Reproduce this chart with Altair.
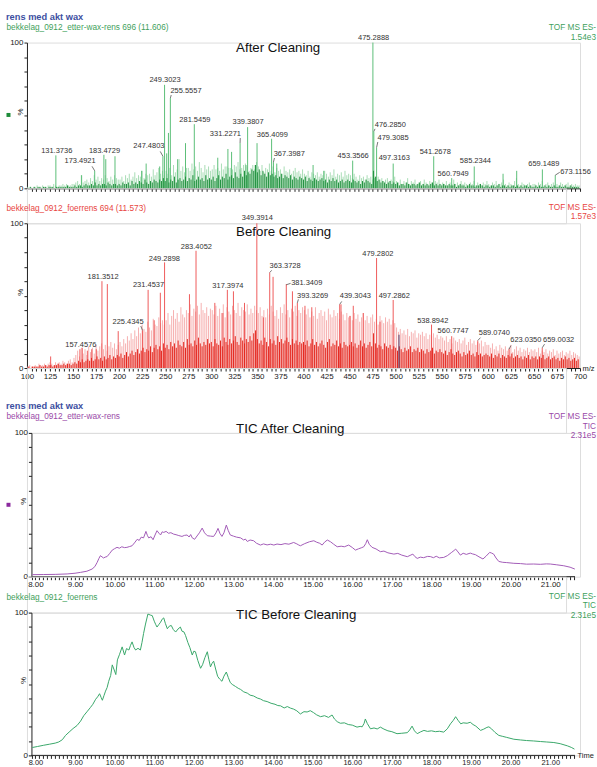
import altair as alt
import pandas as pd

FONT = "Liberation Sans"
AX = "#222222"

# ---------------- axes / ticks ----------------
MZ_DOMAIN = [100, 700]
MZ_TICKS = list(range(100, 701, 5))
PCT_TICKS = list(range(0, 101, 10))
TIME_DOMAIN = [7.786, 21.751]
TIME_AXIS_SPAN = (7.9, 21.625)
TIME_TICKS = [round(7.9 + 0.1 * i, 1) for i in range(138)]

# ---------------- spectrum "After Cleaning" (green) ----------------
AFTER_LIGHT = [
    1, 1, 0, 1, 1, 2, 1, 1, 2, 1, 1, 2, 2, 1, 3, 2, 1, 2, 2, 3, 2, 3, 2, 2, 3,
    3, 4, 5, 3, 9, 4, 5, 6, 4, 7, 5, 9, 6, 8, 5, 7, 6, 9, 7, 5, 8, 6, 9, 7, 6,
    6, 8, 5, 9, 7, 10, 6, 8, 11, 7, 9, 8, 12, 7, 10, 9, 10, 8, 13, 9, 11, 14, 10, 12, 9,
    12, 10, 14, 9, 16, 11, 13, 20, 12, 15, 11, 14, 14, 12, 17, 13, 15, 12, 18, 14, 11, 16, 13, 15, 12,
    13, 16, 13, 14, 12, 17, 13, 15, 15, 14, 14, 13, 16, 15, 18, 13, 14, 16, 17, 15, 12, 14, 16, 13, 18,
    15, 12, 16, 11, 14, 13, 17, 12, 15, 11, 14, 12, 13, 10, 15, 12, 11, 13, 10, 12, 14, 11, 12, 10, 13,
    10, 9, 12, 8, 11, 10, 9, 11, 8, 10, 9, 12, 10, 8, 11, 9, 13, 8, 10, 9, 11, 8, 12, 9, 10,
    9, 7, 10, 8, 6, 9, 7, 8, 6, 9, 7, 8, 6, 7, 5, 8, 6, 7, 5, 6, 7, 5, 6, 5, 8,
    5, 4, 6, 3, 5, 4, 7, 3, 5, 4, 6, 3, 4, 5, 3, 6, 4, 3, 5, 4, 3, 5, 4, 6, 3,
    4, 3, 5, 2, 4, 3, 6, 3, 4, 2, 5, 3, 4, 3, 2, 4, 3, 5, 2, 4, 3, 2, 4, 3, 5,
    3, 2, 4, 3, 5, 2, 3, 4, 6, 3, 2, 4, 3, 2, 5, 7, 3, 2, 4, 3, 2, 3, 4, 2, 3,
    3, 2, 4, 3, 5, 2, 3, 4, 2, 3, 4, 2, 3, 2, 4, 3, 2, 3, 4, 2, 3, 2, 3, 2, 2,
]
AFTER_DARK = [
    0, 0, 1, 0, 1, 0, 1, 1, 0, 1, 1, 0, 1, 1, 1, 0, 1, 1, 1, 1, 1, 1, 2, 1, 1,
    1, 2, 1, 2, 2, 1, 2, 3, 2, 2, 3, 2, 4, 2, 3, 2, 3, 3, 2, 4, 3, 2, 3, 3, 2,
    3, 2, 4, 3, 3, 4, 2, 5, 3, 4, 3, 5, 4, 3, 6, 4, 3, 5, 4, 6, 5, 4, 6, 5, 7,
    5, 7, 4, 6, 5, 8, 4, 6, 7, 5, 6, 8, 5, 7, 6, 9, 5, 6, 8, 6, 7, 5, 9, 6, 7,
    6, 8, 5, 7, 9, 6, 8, 7, 10, 6, 8, 9, 7, 11, 8, 7, 10, 8, 12, 9, 11, 10, 13, 12, 16,
    11, 13, 9, 12, 10, 8, 11, 9, 10, 8, 9, 7, 8, 10, 7, 9, 8, 7, 9, 6, 8, 7, 6, 8, 7,
    6, 8, 5, 7, 6, 5, 7, 6, 5, 6, 7, 5, 6, 4, 6, 5, 7, 5, 6, 4, 5, 6, 4, 5, 6,
    5, 4, 6, 5, 4, 5, 3, 5, 4, 6, 5, 4, 3, 12, 8, 5, 6, 4, 5, 4, 3, 4, 5, 3, 4,
    3, 4, 2, 3, 3, 2, 4, 3, 2, 3, 3, 2, 3, 4, 2, 3, 2, 3, 2, 3, 4, 2, 3, 2, 3,
    2, 3, 2, 2, 3, 2, 2, 3, 1, 2, 3, 2, 2, 1, 2, 3, 2, 2, 1, 2, 2, 3, 2, 1, 2,
    2, 1, 2, 2, 1, 2, 3, 1, 2, 2, 1, 2, 1, 2, 2, 1, 2, 1, 2, 1, 2, 2, 1, 2, 1,
    1, 2, 1, 2, 1, 1, 2, 1, 2, 1, 1, 2, 1, 1, 2, 1, 1, 2, 1, 1, 2, 1, 1, 1, 1,
]
AFTER_PEAKS = [
    (131.37, 22.6), (159.3, 9), (173.49, 12), (183.47, 23), (185.5, 20), (195.5, 22),
    (224.4, 12), (229.3, 17), (244.0, 15), (247.48, 22), (249.30, 71), (251.6, 24),
    (253.5, 38), (255.56, 62), (263.5, 20), (272.0, 31), (281.55, 44), (307.0, 21),
    (318.0, 27), (322.0, 25), (331.23, 31), (337.6, 16), (339.38, 42), (347.6, 16),
    (349.6, 31), (365.41, 34), (367.40, 18), (371.0, 17), (410.4, 16), (422.0, 12),
    (453.36, 19), (475.29, 100), (476.29, 39), (479.31, 28), (497.32, 17), (541.27, 22),
    (560.79, 7), (585.23, 15), (616.5, 10), (631.3, 12), (659.15, 13), (673.12, 9),
]
AFTER_LABELS = [
    ("131.3736", 132.3, 25.8), ("173.4921", 157.6, 19.0), ("183.4729", 184.1, 25.8),
    ("247.4803", 232.3, 29.2), ("249.3023", 249.8, 74.0), ("255.5557", 272.5, 66.9),
    ("281.5459", 282.2, 47.0), ("331.2271", 315.3, 37.2), ("339.3807", 339.9, 45.4),
    ("365.4099", 366.2, 36.8), ("367.3987", 384.6, 23.5), ("453.3566", 453.9, 22.4),
    ("475.2888", 476.1, 103.4), ("476.2850", 494.2, 43.2), ("479.3085", 497.2, 34.2),
    ("497.3163", 498.5, 20.5), ("541.2678", 542.9, 25.1), ("560.7949", 562.4, 10.1),
    ("585.2344", 586.5, 18.5), ("659.1489", 660.7, 16.4), ("673.1156", 695.1, 11.2),
]
AFTER_LEADERS = [
    (170.6, 15.1, 173.5, 12.0), (244.6, 25.3, 247.5, 22.0), (256.5, 64.0, 255.6, 62.0),
    (331.4, 34.5, 331.2, 31.0), (368.5, 20.8, 367.4, 18.0), (477.6, 40.8, 476.3, 39.0),
    (480.6, 31.8, 479.3, 28.0), (678.0, 11.0, 673.1, 9.0),
]

# ---------------- spectrum "Before Cleaning" (red) ----------------
BEFORE_LIGHT = [
    1, 2, 1, 1, 2, 1, 3, 2, 2, 3, 2, 3, 4, 3, 2, 4, 3, 4, 3, 5, 4, 3, 5, 6, 4,
    7, 9, 12, 8, 14, 10, 13, 9, 15, 11, 14, 10, 16, 12, 15, 17, 13, 16, 12, 15, 18, 14, 17, 13, 16,
    18, 15, 20, 17, 22, 19, 24, 20, 26, 22, 28, 24, 30, 27, 25, 32, 28, 26, 34, 30, 29, 35, 31, 33, 30,
    33, 38, 30, 36, 40, 34, 38, 32, 42, 37, 35, 40, 38, 44, 36, 41, 39, 43, 37, 45, 40, 38, 42, 36, 41,
    40, 37, 43, 36, 41, 38, 44, 35, 42, 39, 37, 43, 40, 38, 45, 36, 42, 40, 39, 44, 37, 41, 38, 43, 40,
    38, 42, 36, 40, 35, 41, 37, 43, 39, 36, 40, 34, 42, 38, 44, 37, 40, 35, 41, 39, 43, 36, 40, 38, 42,
    40, 37, 41, 35, 39, 36, 42, 34, 38, 40, 36, 39, 33, 41, 37, 35, 40, 36, 38, 34, 39, 37, 33, 38, 35,
    36, 33, 38, 34, 37, 32, 35, 38, 33, 36, 31, 35, 37, 32, 34, 30, 36, 33, 31, 35, 32, 34, 30, 33, 31,
    28, 25, 27, 24, 26, 23, 27, 22, 25, 24, 26, 21, 24, 23, 25, 22, 24, 20, 23, 22, 24, 21, 23, 20, 22,
    21, 19, 22, 18, 20, 17, 21, 19, 18, 20, 17, 19, 21, 16, 18, 20, 17, 19, 16, 18, 17, 19, 15, 18, 16,
    16, 14, 17, 13, 15, 12, 16, 14, 13, 15, 12, 14, 16, 11, 13, 15, 12, 14, 11, 13, 12, 14, 11, 13, 12,
    13, 11, 14, 10, 12, 11, 13, 10, 12, 11, 13, 9, 12, 10, 11, 12, 9, 11, 10, 12, 9, 11, 10, 9, 8,
]
BEFORE_DARK = [
    0, 1, 0, 1, 1, 1, 1, 2, 1, 1, 2, 1, 2, 2, 1, 2, 2, 3, 2, 2, 3, 2, 3, 3, 2,
    3, 4, 3, 5, 4, 6, 4, 5, 6, 5, 7, 5, 6, 8, 6, 7, 5, 8, 6, 7, 9, 6, 8, 7, 9,
    8, 10, 7, 9, 11, 8, 10, 12, 9, 11, 13, 10, 12, 14, 11, 13, 12, 15, 11, 14, 16, 13, 15, 12, 17,
    14, 16, 13, 18, 15, 17, 14, 19, 16, 15, 18, 14, 20, 16, 17, 15, 19, 16, 21, 17, 15, 18, 16, 20, 17,
    18, 15, 20, 17, 16, 19, 15, 21, 18, 16, 20, 17, 19, 22, 18, 16, 21, 19, 17, 20, 18, 22, 19, 24, 26,
    20, 17, 19, 16, 21, 18, 15, 20, 17, 19, 16, 22, 18, 20, 17, 19, 21, 18, 16, 20, 17, 19, 16, 18, 17,
    18, 16, 19, 15, 17, 20, 16, 18, 15, 17, 19, 16, 14, 18, 20, 15, 17, 16, 19, 15, 17, 14, 18, 16, 15,
    16, 18, 15, 17, 14, 16, 19, 15, 17, 14, 16, 18, 15, 24, 17, 14, 16, 15, 13, 17, 15, 14, 16, 13, 15,
    14, 12, 15, 13, 11, 14, 12, 13, 15, 11, 13, 12, 14, 11, 13, 12, 10, 13, 11, 12, 14, 10, 12, 11, 13,
    11, 10, 12, 9, 11, 13, 10, 9, 11, 12, 10, 8, 11, 9, 10, 12, 9, 10, 8, 11, 9, 10, 8, 9, 10,
    9, 8, 10, 7, 9, 8, 10, 7, 9, 8, 7, 9, 8, 10, 7, 8, 9, 7, 8, 6, 8, 7, 9, 6, 8,
    7, 8, 6, 8, 7, 9, 6, 7, 8, 6, 7, 8, 6, 7, 5, 7, 6, 8, 6, 7, 5, 6, 7, 5, 6,
]
BEFORE_PEAKS = [
    (125.7, 8), (157.46, 13), (160.0, 14), (165.5, 12), (170.3, 13), (175.2, 13),
    (181.35, 60), (187.2, 58), (199.0, 25.5), (225.43, 26), (231.45, 54), (238.0, 33),
    (244.7, 52), (249.29, 73), (276.3, 51), (283.41, 81), (303.8, 45), (312.5, 38),
    (317.40, 54), (324.0, 53), (336.0, 45), (349.39, 100), (356.5, 35), (363.37, 66),
    (367.0, 63), (381.34, 58), (388.0, 53), (393.33, 45), (401.6, 43), (409.0, 42),
    (439.30, 44), (440.7, 44), (450.3, 36), (454.0, 43), (464.8, 38), (479.28, 76),
    (483.0, 32), (497.29, 47), (538.89, 30), (560.77, 22), (589.07, 19), (623.04, 13),
    (659.0, 14),
]
BEFORE_MARKER = [(503.6, 23)]
BEFORE_LABELS = [
    ("157.4576", 158.5, 15.9), ("181.3512", 182.6, 63.0), ("225.4345", 209.7, 31.9),
    ("231.4537", 231.9, 57.2), ("249.2898", 249.1, 75.6), ("283.4052", 283.8, 83.7),
    ("317.3974", 318.0, 57.0), ("349.3914", 349.9, 103.4), ("363.3728", 380.0, 70.8),
    ("381.3409", 403.5, 58.8), ("393.3269", 409.9, 50.1), ("439.3043", 456.3, 50.1),
    ("479.2802", 480.7, 79.1), ("497.2862", 498.5, 50.1), ("538.8942", 540.2, 32.4),
    ("560.7747", 562.4, 25.5), ("589.0740", 607.0, 23.9), ("623.0350", 641.2, 19.1),
    ("659.0032", 676.8, 19.1),
]
BEFORE_LEADERS = [
    (223.5, 29.0, 225.4, 26.0), (365.5, 67.5, 363.4, 66.0), (386.0, 58.5, 381.3, 57.5),
    (394.5, 47.5, 393.3, 45.0), (441.5, 46.0, 439.3, 44.0), (592.0, 21.0, 589.1, 19.0),
    (625.0, 15.5, 623.0, 13.0), (661.5, 16.5, 659.0, 14.0),
]

# ---------------- TIC traces (time min, %) ----------------
TIC_AFTER = [
    (7.92, 1.4), (8.2, 1.5), (8.5, 1.6), (8.8, 1.9), (9.0, 2.4), (9.14, 3.0), (9.3, 3.8), (9.43, 5.3),
    (9.5, 7.0), (9.56, 10.0), (9.6, 12.5), (9.64, 14.6), (9.68, 13.8), (9.72, 13.0), (9.76, 13.6),
    (9.81, 14.0), (9.87, 16.0), (9.94, 18.5), (10.0, 19.5), (10.06, 20.4), (10.12, 19.8), (10.18, 20.8),
    (10.25, 20.2), (10.31, 20.4), (10.37, 20.9), (10.44, 21.5), (10.5, 23.5), (10.57, 26.0), (10.62, 25.2),
    (10.67, 27.5), (10.73, 27.0), (10.79, 31.5), (10.83, 28.5), (10.86, 27.0), (10.92, 27.8), (10.97, 25.7),
    (11.02, 29.0), (11.07, 32.0), (11.12, 30.2), (11.16, 29.0), (11.2, 31.2), (11.24, 30.8), (11.3, 31.5),
    (11.36, 30.2), (11.42, 30.6), (11.49, 29.6), (11.55, 29.2), (11.62, 28.6), (11.7, 28.0), (11.76, 28.7),
    (11.83, 29.0), (11.88, 27.6), (11.92, 29.3), (11.96, 27.0), (12.02, 26.0), (12.08, 28.3), (12.14, 30.5),
    (12.21, 33.8), (12.27, 30.5), (12.34, 28.5), (12.42, 28.2), (12.5, 28.0), (12.56, 30.5), (12.61, 33.6),
    (12.66, 30.0), (12.71, 28.0), (12.76, 30.5), (12.82, 35.9), (12.87, 32.0), (12.92, 29.0), (13.0, 28.2),
    (13.08, 27.5), (13.18, 27.0), (13.26, 25.5), (13.3, 26.2), (13.35, 24.5), (13.42, 25.5), (13.51, 25.0),
    (13.58, 23.3), (13.68, 22.0), (13.76, 22.8), (13.85, 22.1), (13.94, 22.6), (14.02, 22.0), (14.1, 22.7),
    (14.2, 22.3), (14.3, 23.0), (14.4, 22.6), (14.52, 23.8), (14.6, 22.8), (14.65, 22.0), (14.69, 21.5),
    (14.8, 23.0), (14.92, 24.3), (15.03, 25.0), (15.1, 24.0), (15.18, 23.2), (15.24, 22.0), (15.3, 24.0),
    (15.37, 25.5), (15.45, 24.3), (15.53, 22.6), (15.62, 20.8), (15.72, 21.2), (15.8, 20.8), (15.91, 22.0),
    (16.0, 20.3), (16.08, 18.5), (16.16, 19.4), (16.24, 20.2), (16.29, 20.8), (16.34, 23.0), (16.38, 25.7),
    (16.43, 22.5), (16.5, 20.4), (16.6, 19.3), (16.71, 17.4), (16.8, 17.8), (16.9, 16.6), (17.05, 15.7),
    (17.15, 16.2), (17.25, 15.0), (17.39, 13.9), (17.46, 14.8), (17.53, 15.7), (17.58, 14.0), (17.64, 12.7),
    (17.72, 13.6), (17.8, 13.2), (17.9, 14.1), (17.97, 14.0), (18.05, 13.2), (18.12, 14.2), (18.2, 13.1),
    (18.31, 13.4), (18.4, 14.6), (18.5, 16.7), (18.57, 18.2), (18.61, 19.2), (18.67, 17.2), (18.73, 15.0),
    (18.8, 16.3), (18.88, 15.5), (18.98, 16.4), (19.04, 15.8), (19.11, 15.3), (19.2, 13.8), (19.3, 12.3),
    (19.38, 14.3), (19.47, 16.9), (19.52, 16.4), (19.57, 15.7), (19.63, 13.0), (19.7, 10.6), (19.8, 10.0),
    (19.9, 9.8), (20.08, 9.3), (20.25, 9.1), (20.4, 8.7), (20.58, 8.8), (20.75, 8.6), (20.9, 8.9),
    (21.0, 8.8), (21.15, 8.3), (21.34, 7.6), (21.5, 6.6), (21.62, 5.3),
]
TIC_BEFORE = [
    (7.92, 5.5), (8.05, 6.2), (8.21, 7.1), (8.35, 7.8), (8.5, 8.6), (8.59, 9.4), (8.68, 11.0), (8.76, 14.0),
    (8.85, 16.3), (8.95, 18.8), (9.05, 20.9), (9.14, 24.0), (9.22, 27.8), (9.3, 30.5), (9.39, 33.6),
    (9.45, 35.8), (9.52, 39.3), (9.57, 41.0), (9.62, 43.2), (9.66, 40.5), (9.69, 38.6), (9.73, 41.8),
    (9.77, 45.0), (9.81, 47.5), (9.85, 51.9), (9.9, 56.0), (9.94, 63.4), (9.98, 60.5), (10.03, 56.6),
    (10.07, 66.9), (10.12, 70.5), (10.19, 76.0), (10.25, 70.3), (10.3, 74.8), (10.36, 73.8), (10.4, 77.0),
    (10.44, 79.5), (10.49, 75.5), (10.53, 73.8), (10.59, 75.0), (10.65, 73.8), (10.69, 79.0), (10.73, 85.3),
    (10.78, 92.0), (10.84, 99.0), (10.9, 98.3), (10.95, 97.9), (11.0, 94.0), (11.04, 91.5), (11.07, 89.9),
    (11.12, 91.8), (11.16, 93.3), (11.2, 95.4), (11.24, 96.3), (11.28, 92.5), (11.33, 88.7), (11.38, 90.5),
    (11.43, 91.0), (11.48, 88.2), (11.54, 86.4), (11.6, 88.5), (11.66, 89.9), (11.7, 87.0), (11.75, 86.5),
    (11.79, 84.0), (11.85, 79.0), (11.9, 75.5), (11.96, 70.3), (12.0, 73.0), (12.04, 72.6), (12.1, 66.5),
    (12.17, 61.0), (12.22, 63.5), (12.28, 68.5), (12.34, 72.6), (12.38, 67.0), (12.42, 62.0), (12.46, 64.5),
    (12.5, 66.0), (12.55, 60.5), (12.6, 55.4), (12.65, 53.5), (12.71, 51.9), (12.76, 55.5), (12.82, 58.4),
    (12.87, 54.5), (12.92, 51.0), (12.97, 49.7), (13.05, 48.3), (13.12, 47.0), (13.18, 46.2), (13.26, 44.5),
    (13.35, 43.6), (13.42, 42.2), (13.51, 41.6), (13.6, 40.2), (13.68, 39.5), (13.76, 38.3), (13.85, 37.7),
    (13.95, 36.5), (14.05, 35.8), (14.12, 34.9), (14.19, 34.7), (14.28, 33.2), (14.36, 34.2), (14.44, 33.1),
    (14.52, 32.4), (14.6, 31.2), (14.69, 29.0), (14.78, 30.6), (14.86, 30.4), (14.94, 31.3), (15.02, 30.0),
    (15.1, 28.4), (15.2, 27.1), (15.3, 27.8), (15.4, 26.6), (15.49, 28.3), (15.55, 25.5), (15.62, 23.6),
    (15.7, 22.5), (15.8, 22.8), (15.9, 21.6), (16.0, 21.2), (16.12, 19.8), (16.2, 20.3), (16.25, 20.0),
    (16.3, 22.5), (16.33, 25.5), (16.38, 22.3), (16.46, 18.6), (16.55, 19.2), (16.63, 18.5), (16.71, 19.8),
    (16.8, 18.4), (16.9, 17.2), (17.0, 16.6), (17.13, 15.2), (17.25, 15.5), (17.39, 15.9), (17.45, 17.8),
    (17.51, 20.5), (17.57, 17.2), (17.64, 15.2), (17.72, 16.4), (17.81, 17.5), (17.9, 16.8), (18.0, 17.2),
    (18.1, 16.6), (18.2, 16.9), (18.31, 16.3), (18.4, 18.6), (18.48, 22.1), (18.55, 24.5), (18.61, 27.1),
    (18.67, 24.6), (18.74, 22.1), (18.8, 22.8), (18.9, 22.5), (18.98, 23.2), (19.05, 21.6), (19.12, 20.5),
    (19.24, 17.5), (19.32, 18.4), (19.4, 19.6), (19.45, 20.0), (19.52, 18.5), (19.6, 16.2), (19.7, 14.0),
    (19.8, 13.3), (19.9, 12.6), (20.08, 11.3), (20.25, 10.8), (20.4, 10.4), (20.58, 10.1), (20.75, 9.7),
    (20.9, 9.4), (21.09, 9.0), (21.25, 8.2), (21.43, 6.7), (21.53, 5.6), (21.61, 4.4),
]

assert len(AFTER_LIGHT) == 300 and len(AFTER_DARK) == 300
assert len(BEFORE_LIGHT) == 300 and len(BEFORE_DARK) == 300

ONE = pd.DataFrame({"k": [0]})
W = 554
RIGHT_X = 570  # right edge of the instrument texts, relative to the plot's left


def ptext(txt, x, y, size, color, align="left", weight="normal", angle=None):
    kw = dict(text=txt, fontSize=size, color=color, align=align, baseline="middle",
              fontWeight=weight, font=FONT)
    if angle is not None:
        kw["angle"] = angle
    return alt.Chart(ONE).mark_text(**kw).encode(x=alt.value(x), y=alt.value(y))


def anchor(x1, x2, y1, y2):
    # invisible rule that fixes the outer bounds of the page
    return alt.Chart(ONE).mark_rule(color="white", strokeWidth=0, opacity=0).encode(
        x=alt.value(x1), x2=alt.value(x2), y=alt.value(y1), y2=alt.value(y2))


def y_axis(offset=0):
    kw = {}
    if offset:
        kw["offset"] = offset
    return alt.Axis(values=PCT_TICKS, title=None, grid=False, tickSize=3,
                    labelExpr="datum.value == 0 || datum.value == 100 ? '' + datum.value : ''",
                    labelFontSize=8, labelColor=AX, labelPadding=1, labelOverlap=False,
                    domainColor=AX, tickColor=AX, labelFont=FONT, **kw)


def ms_layers(light, dark, peaks, labels, leaders, c_light, c_peak, c_dark, show_labels,
              marker=None):
    xs = alt.Scale(domain=MZ_DOMAIN, nice=False, zero=False)
    ys = alt.Scale(domain=[0, 100], nice=False)
    if show_labels:
        xa = alt.Axis(values=MZ_TICKS, title=None, grid=False, tickSize=3,
                      labelExpr="datum.value % 25 == 0 ? '' + datum.value : ''",
                      labelFontSize=8, labelColor=AX, labelPadding=1, labelOverlap=False,
                      labelFlush=False, domainColor=AX, tickColor=AX, labelFont=FONT)
    else:
        xa = alt.Axis(values=MZ_TICKS, title=None, grid=False, tickSize=3, labels=False,
                      domainColor=AX, tickColor=AX)
    ya = y_axis()

    def X(f):
        return alt.X(f, type="quantitative", scale=xs, axis=xa)

    def Y(f):
        return alt.Y(f, type="quantitative", scale=ys, axis=ya)

    df_light = pd.DataFrame({"mz": list(range(101, 700, 2)), "y": light})
    df_dark = pd.DataFrame({"mz": list(range(100, 699, 2)), "y": dark})
    df_pk = pd.DataFrame(peaks, columns=["mz", "y"])
    df_lab = pd.DataFrame(labels, columns=["label", "mz", "y"])
    df_lead = pd.DataFrame(leaders, columns=["mz", "y", "mz2", "y2"])

    layers = [
        alt.Chart(df_light).mark_rule(color=c_light, strokeWidth=1).encode(
            x=X("mz"), y=Y("y"), y2=alt.datum(0)),
        alt.Chart(df_pk).mark_rule(color=c_peak, strokeWidth=1).encode(
            x=X("mz"), y=Y("y"), y2=alt.datum(0)),
        alt.Chart(df_dark).mark_rule(color=c_dark, strokeWidth=1).encode(
            x=X("mz"), y=Y("y"), y2=alt.datum(0)),
    ]
    if marker is not None:
        df_m = pd.DataFrame(marker, columns=["mz", "y"])
        layers.append(alt.Chart(df_m).mark_rule(color="#4b3f6e", strokeWidth=1).encode(
            x=X("mz"), y=Y("y"), y2=alt.datum(0)))
    layers += [
        alt.Chart(df_lead).mark_rule(color="#555555", strokeWidth=0.8).encode(
            x=X("mz"), y=Y("y"), x2=alt.X2("mz2"), y2=alt.Y2("y2")),
        alt.Chart(df_lab).mark_text(fontSize=7.5, color="#333333", font=FONT,
                                    align="center", baseline="middle").encode(
            x=X("mz"), y=Y("y"), text="label:N"),
    ]
    return layers


def tic_layers(trace, color, label_size=8, label_pad=1):
    xs = alt.Scale(domain=TIME_DOMAIN, nice=False, zero=False)
    ys = alt.Scale(domain=[0, 100], nice=False)
    xa = alt.Axis(values=TIME_TICKS, title=None, grid=False, tickSize=3, domain=False,
                  labelExpr="abs(datum.value - round(datum.value)) < 0.01 ? format(datum.value, '.2f') : ''",
                  labelFontSize=label_size, labelColor=AX, labelPadding=label_pad,
                  labelOverlap=False, labelFlush=False, tickColor=AX, labelFont=FONT)
    ya = y_axis(offset=-4.5)
    df = pd.DataFrame(trace, columns=["t", "v"])
    df_ax = pd.DataFrame({"t": [TIME_AXIS_SPAN[0]], "t2": [TIME_AXIS_SPAN[1]], "v": [0]})
    return [
        alt.Chart(df).mark_line(color=color, strokeWidth=1).encode(
            x=alt.X("t:Q", scale=xs, axis=xa), y=alt.Y("v:Q", scale=ys, axis=ya)),
        alt.Chart(df_ax).mark_rule(color=AX, strokeWidth=1).encode(
            x=alt.X("t:Q", scale=xs, axis=xa), x2="t2:Q",
            y=alt.Y("v:Q", scale=ys, axis=ya)),
    ]


GREEN_TXT = "#3f9f5c"
RED_TXT = "#e8463f"
PURPLE_TXT = "#9a4aa8"
BLUE_TXT = "#3d4fa1"

# ---- panel 1: spectrum after cleaning (plot top-left at page 26.5, 41) ----
l1 = ms_layers(AFTER_LIGHT, AFTER_DARK, AFTER_PEAKS, AFTER_LABELS, AFTER_LEADERS,
               "#a9ddb6", "#5cbf78", "#22913f", False)
l1 += [
    anchor(-26.5, 583.5, -41, -41),
    ptext("rens med akt wax", -21, -26, 9.3, BLUE_TXT, weight="bold"),
    ptext("bekkelag_0912_etter-wax-rens 696 (11.606)", -20.5, -15, 8.3, GREEN_TXT),
    ptext("TOF MS ES-", RIGHT_X, -15, 8.3, GREEN_TXT, align="right"),
    ptext("1.54e3", RIGHT_X, -5, 8.3, GREEN_TXT, align="right"),
    ptext("After Cleaning", 209.5, 5, 13.3, "#111111"),
    ptext("%", -6, 73, 8, AX, angle=270),
    alt.Chart(ONE).mark_square(size=16, color="#1e8c3a", opacity=1).encode(
        x=alt.value(-18.5), y=alt.value(72.5)),
]
p1 = alt.layer(*l1).properties(width=W, height=146)

# ---- panel 2: spectrum before cleaning ----
l2 = ms_layers(BEFORE_LIGHT, BEFORE_DARK, BEFORE_PEAKS, BEFORE_LABELS, BEFORE_LEADERS,
               "#f6b1b1", "#ef5b5b", "#e4281f", True, marker=BEFORE_MARKER)
l2 += [
    ptext("bekkelag_0912_foerrens 694 (11.573)", -20.5, -14.3, 8.3, RED_TXT),
    ptext("TOF MS ES-", RIGHT_X, -15.3, 8.3, RED_TXT, align="right"),
    ptext("1.57e3", RIGHT_X, -6.3, 8.3, RED_TXT, align="right"),
    ptext("Before Cleaning", 209.5, 8.7, 13.3, "#111111"),
    ptext("%", -6, 72.5, 8, AX, angle=270),
    ptext("m/z", 556.5, 146.3, 7.5, AX),
]
p2 = alt.layer(*l2).properties(width=W, height=145)

# ---- panel 3: TIC after cleaning ----
l3 = tic_layers(TIC_AFTER, "#a35cb8")
l3 += [
    ptext("rens med akt wax", -21, -27, 9.3, BLUE_TXT, weight="bold"),
    ptext("bekkelag_0912_etter-wax-rens", -20.5, -16, 8.3, PURPLE_TXT),
    ptext("TOF MS ES-", RIGHT_X, -16, 8.3, PURPLE_TXT, align="right"),
    ptext("TIC", RIGHT_X, -6, 8.3, PURPLE_TXT, align="right"),
    ptext("2.31e5", RIGHT_X, 3, 8.3, PURPLE_TXT, align="right"),
    ptext("TIC After Cleaning", 209.5, -3.7, 13.3, "#111111"),
    ptext("%", -3, 72, 8, AX, angle=270),
    alt.Chart(ONE).mark_square(size=16, color="#8b2a9e", opacity=1).encode(
        x=alt.value(-18.5), y=alt.value(72)),
]
p3 = alt.layer(*l3).properties(width=W, height=144)

# ---- panel 4: TIC before cleaning (a little shorter so its time labels stay on the page) ----
H4 = 143
l4 = tic_layers(TIC_BEFORE, "#3aa86a", label_size=7.5, label_pad=0)
l4 += [
    anchor(583.5, 583.5, 100, 168),
    ptext("bekkelag_0912_foerrens", -20.5, -14.3, 8.3, GREEN_TXT),
    ptext("TOF MS ES-", RIGHT_X, -15.3, 8.3, GREEN_TXT, align="right"),
    ptext("TIC", RIGHT_X, -6.3, 8.3, GREEN_TXT, align="right"),
    ptext("2.31e5", RIGHT_X, 3, 8.3, GREEN_TXT, align="right"),
    ptext("TIC Before Cleaning", 209.5, 2.3, 13.3, "#111111"),
    ptext("%", -3, 71.5, 8, AX, angle=270),
    ptext("Time", 551.5, H4 + 0.2, 7.5, AX),
]
p4 = alt.layer(*l4).properties(width=W, height=H4)


def spacer(h):
    return alt.Chart(ONE).mark_text(text="").encode(
        x=alt.value(0), y=alt.value(0)).properties(width=540, height=h)


chart = alt.vconcat(
    p1, spacer(35), p2, spacer(65), p3, spacer(36), p4,
    spacing=0, bounds="flush",
).properties(
    padding={"left": 0, "top": 0, "right": -13, "bottom": -13},
    background="white",
).configure_view(stroke=None).configure(font=FONT)

chart.save("out.html", embed_options={"renderer": "svg", "actions": False})
